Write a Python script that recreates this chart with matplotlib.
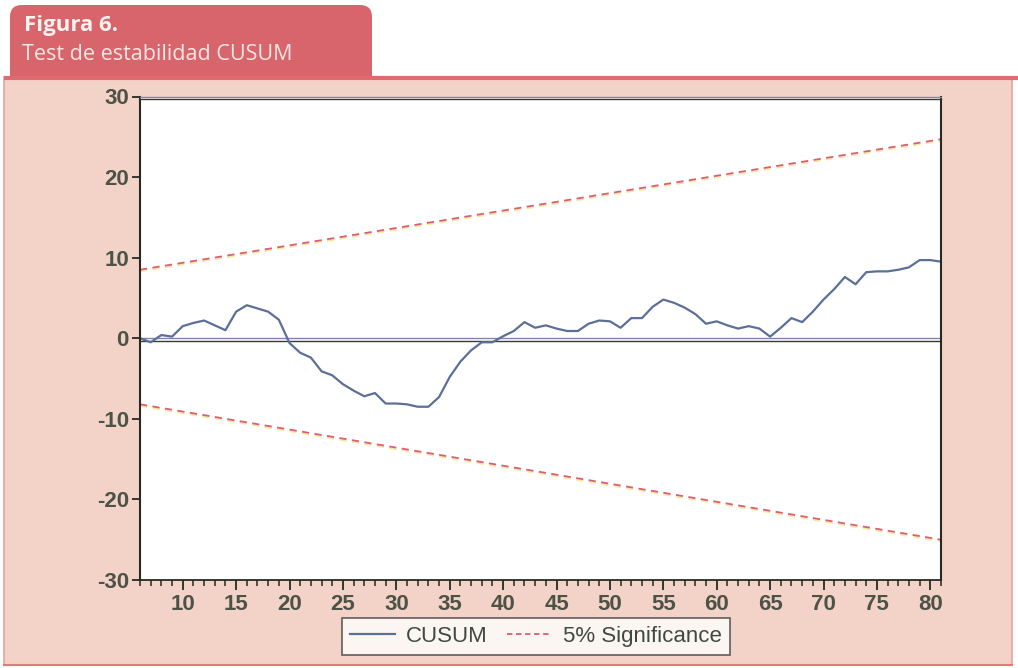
import matplotlib as mpl
from matplotlib import pyplot as plt
from matplotlib import patheffects as pe
from matplotlib.patches import FancyBboxPatch, Rectangle
from matplotlib.lines import Line2D

mpl.use("agg")
mpl.rcParams["font.family"] = ["Liberation Sans", "DejaVu Sans"]

# observations and recursive CUSUM statistic
obs = list(range(6, 82))
cusum = [
    0.0, -0.5, 0.4, 0.2, 1.5, 1.9, 2.2, 1.6, 1.0, 3.3,
    4.1, 3.7, 3.3, 2.3, -0.6, -1.8, -2.4, -4.1, -4.6, -5.7,
    -6.5, -7.2, -6.8, -8.1, -8.1, -8.2, -8.5, -8.5, -7.3, -4.8,
    -2.9, -1.5, -0.5, -0.5, 0.25, 0.9, 2.0, 1.3, 1.6, 1.2,
    0.9, 0.9, 1.8, 2.2, 2.1, 1.3, 2.5, 2.5, 3.9, 4.8,
    4.4, 3.8, 3.0, 1.8, 2.1, 1.6, 1.2, 1.5, 1.2, 0.2,
    1.3, 2.5, 2.0, 3.3, 4.8, 6.1, 7.6, 6.7, 8.2, 8.3,
    8.3, 8.5, 8.8, 9.7, 9.7, 9.5,
]

# 5% significance bands (straight lines between the end observations)
sig_obs = [6, 81]
sig_upper = [8.5, 24.7]
sig_lower = [-8.2, -25.0]

x_ticks = list(range(10, 81, 5))
y_ticks = [-30, -20, -10, 0, 10, 20, 30]
y_ticklabels = ["-30", "-20", "-10", "0", "10", "20", "30"]

title_bold = "Figura 6."
title_sub = "Test de estabilidad CUSUM"

W, H = 1018, 668
fig = plt.figure(figsize=(W / 100, H / 100), dpi=100)
fig.patch.set_facecolor("white")

# page decoration: pink panel, red header tab and rule
bg = fig.add_axes([0, 0, 1, 1])
bg.set_xlim(0, W)
bg.set_ylim(H, 0)
bg.axis("off")
bg.add_patch(Rectangle((4, 77), 1008, 588, facecolor="#f3d3c8",
                       edgecolor="#e3a3a0", lw=1.2))
bg.add_patch(FancyBboxPatch((10, 5), 362, 68,
                            boxstyle="round,pad=0,rounding_size=12",
                            facecolor="#d9656c", edgecolor="none"))
bg.add_patch(Rectangle((10, 40), 362, 38, facecolor="#d9656c", edgecolor="none"))
bg.plot([4, W], [77.5, 77.5], color="#df6a70", lw=3, solid_capstyle="butt")
bg.plot([4, 1012], [665, 665], color="#e07b7b", lw=1.5)
bg.text(24, 26, title_bold, color="#fbf1ef", fontsize=16, fontweight="bold",
        family=["Open Sans", "DejaVu Sans"], va="center", ha="left")
bg.text(22, 55, title_sub, color="#f6e6e3", fontsize=15.5,
        family=["Open Sans", "DejaVu Sans"], va="center", ha="left")

ax = fig.add_axes([140 / W, 1 - 580 / H, (941 - 140) / W, (580 - 96.5) / H])
ax.set_facecolor("white")
ax.set_xlim(6, 81)
ax.set_ylim(-30, 30)

dark = "#262a20"
ax.axhline(0, color="#8e80ad", lw=1.0,
           path_effects=[pe.SimpleLineShadow(offset=(0, -1.8), shadow_color="#34401f",
                                             alpha=1, rho=1), pe.Normal()])
sig_fx = [pe.SimpleLineShadow(offset=(0, -1.2), shadow_color="#f1e27a", alpha=0.7, rho=1),
          pe.Normal()]
ax.plot(sig_obs, sig_upper, color="#dc5c74", lw=1.3, dashes=(4, 3), path_effects=sig_fx)
ax.plot(sig_obs, sig_lower, color="#dc5c74", lw=1.3, dashes=(4, 3), path_effects=sig_fx)
ax.plot(obs, cusum, color="#5b6f98", lw=1.6)

for side in ["left", "right"]:
    ax.spines[side].set_color(dark)
    ax.spines[side].set_linewidth(1.5)
ax.spines["bottom"].set_color(dark)
ax.spines["bottom"].set_linewidth(1.3)
ax.spines["top"].set_color("#8e80ad")
ax.spines["top"].set_linewidth(1.0)
ax.spines["top"].set_path_effects(
    [pe.SimpleLineShadow(offset=(0, -1.8), shadow_color="#34401f", alpha=1, rho=1),
     pe.Normal()])

ax.set_xticks(x_ticks)
ax.set_xticks(obs, minor=True)
ax.set_yticks(y_ticks)
ax.set_yticklabels(y_ticklabels)
ax.tick_params(axis="y", direction="out", length=6, width=1.3, color=dark,
               labelsize=16, labelcolor="#4d5246", pad=2)
ax.tick_params(axis="x", which="major", direction="out", length=7, width=1.3,
               color=dark, labelsize=16, labelcolor="#4d5246", pad=3)
ax.tick_params(axis="x", which="minor", direction="out", length=4, width=1.1,
               color=dark)
for lab in ax.get_xticklabels() + ax.get_yticklabels():
    lab.set_fontweight("bold")

handles = [Line2D([], [], color="#5b6f98", lw=1.6),
           Line2D([], [], color="#dc5c74", lw=1.3, dashes=(3, 2))]
leg = fig.legend(handles, ["CUSUM", "5% Significance"], ncol=2,
                 loc="lower center", bbox_to_anchor=(536 / W, 2 / H),
                 frameon=True, fancybox=False, fontsize=16, handlelength=2.0,
                 handletextpad=0.5, columnspacing=0.9, borderpad=0.35,
                 labelcolor="#3f4a3c")
leg.get_frame().set_edgecolor("#3a3a3a")
leg.get_frame().set_linewidth(1.2)
leg.get_frame().set_facecolor("white")

fig.savefig("out.png", dpi=100)
plt.close(fig)
